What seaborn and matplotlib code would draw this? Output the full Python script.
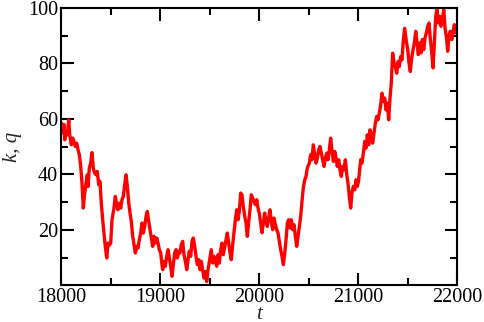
import numpy as np
import pandas as pd
import seaborn as sns
from matplotlib import pyplot as plt
from matplotlib.ticker import MultipleLocator

# values (t, k)
t = [18003, 18017, 18030, 18037, 18051, 18064, 18078, 18088, 18104, 18118,
     18131, 18144, 18159, 18172, 18185, 18199, 18212, 18225, 18239, 18253,
     18266, 18273, 18286, 18300, 18313, 18326, 18340, 18354, 18367, 18381,
     18394, 18407, 18421, 18434, 18447, 18462, 18475, 18488, 18502, 18515,
     18535, 18548, 18563, 18576, 18589, 18603, 18616, 18629, 18643, 18657,
     18670, 18684, 18697, 18710, 18724, 18737, 18751, 18765, 18778, 18791,
     18805, 18818, 18831, 18845, 18859, 18872, 18886, 18899, 18912, 18926,
     18939, 18953, 18967, 18980, 18993, 19007, 19015, 19027, 19040, 19053,
     19068, 19081, 19094, 19108, 19121, 19134, 19148, 19162, 19175, 19189,
     19202, 19215, 19229, 19242, 19256, 19270, 19283, 19296, 19310, 19323,
     19336, 19350, 19364, 19377, 19391, 19404, 19417, 19431, 19444, 19458,
     19472, 19485, 19502, 19518, 19532, 19545, 19559, 19573, 19586, 19599,
     19613, 19626, 19639, 19654, 19667, 19680, 19694, 19707, 19720, 19734,
     19747, 19761, 19775, 19788, 19801, 19815, 19828, 19841, 19856, 19869,
     19882, 19896, 19909, 19922, 19936, 19949, 19963, 19977, 19990, 20003,
     20017, 20030, 20044, 20057, 20071, 20084, 20098, 20111, 20124, 20138,
     20152, 20165, 20179, 20192, 20205, 20219, 20232, 20246, 20260, 20273,
     20286, 20300, 20313, 20326, 20341, 20354, 20367, 20381, 20394, 20407,
     20421, 20434, 20447, 20462, 20475, 20488, 20508, 20522, 20535, 20548,
     20563, 20576, 20589, 20603, 20616, 20629, 20643, 20657, 20670, 20684,
     20697, 20710, 20724, 20737, 20751, 20765, 20778, 20791, 20805, 20818,
     20831, 20845, 20859, 20872, 20886, 20899, 20912, 20926, 20939, 20953,
     20967, 20980, 20993, 21005, 21027, 21040, 21054, 21068, 21081, 21094,
     21108, 21121, 21134, 21148, 21162, 21175, 21189, 21202, 21215, 21229,
     21242, 21256, 21270, 21283, 21296, 21310, 21323, 21336, 21350, 21364,
     21377, 21391, 21404, 21417, 21431, 21444, 21458, 21471, 21488, 21502,
     21515, 21528, 21542, 21556, 21569, 21583, 21596, 21609, 21623, 21636,
     21650, 21664, 21677, 21690, 21704, 21717, 21731, 21745, 21758, 21771,
     21785, 21798, 21811, 21825, 21838, 21851, 21866, 21879, 21892, 21906,
     21919, 21932, 21947, 21960, 21973, 21987, 22000]
k = [58.5, 55.0, 58.0, 52.5, 55.5, 54.3, 59.7, 54.3, 50.7, 53.1,
     51.9, 50.1, 51.3, 48.9, 47.1, 42.9, 36.9, 27.9, 33.3, 36.9,
     39.9, 35.7, 42.3, 44.1, 47.9, 42.3, 40.5, 39.9, 41.1, 36.3,
     37.5, 29.7, 23.7, 18.9, 14.1, 9.9, 15.3, 14.5, 15.3, 23.7,
     27.9, 32.1, 29.1, 27.3, 29.7, 27.9, 30.9, 32.1, 36.3, 39.9,
     35.7, 29.7, 26.1, 23.1, 17.7, 14.7, 11.7, 14.1, 13.5, 16.5,
     18.9, 22.5, 18.9, 21.3, 24.9, 26.7, 23.1, 20.1, 17.1, 14.1,
     17.7, 15.3, 17.1, 15.3, 12.9, 11.7, 9.0, 5.7, 8.7, 6.9,
     10.5, 12.9, 9.9, 6.9, 3.3, 7.5, 11.7, 12.9, 9.9, 12.3,
     11.7, 14.7, 15.9, 11.1, 8.7, 5.7, 9.3, 12.3, 10.5, 15.9,
     17.1, 14.1, 10.5, 7.5, 9.3, 5.7, 8.7, 5.7, 2.7, 5.0,
     1.4, 5.7, 9.3, 12.9, 8.1, 10.5, 8.7, 6.9, 11.1, 8.1,
     12.9, 15.3, 11.1, 14.1, 16.5, 18.9, 15.3, 11.7, 9.3, 14.7,
     18.9, 23.7, 27.3, 23.7, 26.7, 33.3, 32.7, 28.5, 24.9, 22.5,
     17.7, 23.1, 27.3, 32.7, 31.5, 30.3, 29.1, 30.9, 28.0, 26.0,
     22.5, 19.0, 22.5, 26.1, 23.1, 21.3, 24.3, 27.3, 23.1, 20.1,
     24.3, 21.9, 20.1, 18.9, 15.9, 12.9, 10.5, 7.5, 11.7, 16.5,
     22.5, 23.7, 20.7, 23.7, 20.1, 21.9, 17.7, 14.1, 17.7, 21.3,
     24.9, 30.3, 35.1, 38.1, 39.3, 42.3, 44.1, 47.1, 45.3, 50.7,
     47.1, 44.1, 45.9, 48.9, 50.1, 47.7, 45.3, 42.9, 45.9, 47.7,
     45.3, 48.9, 53.1, 48.3, 44.7, 48.3, 45.9, 42.9, 45.3, 41.7,
     39.3, 42.9, 41.7, 45.3, 39.9, 36.9, 32.1, 27.9, 33.3, 35.7,
     34.5, 38.1, 35.7, 37.5, 45.3, 44.1, 47.7, 51.9, 49.5, 54.3,
     50.7, 56.1, 54.3, 51.3, 54.9, 58.5, 60.9, 59.7, 62.1, 65.1,
     69.3, 66.3, 67.5, 63.3, 65.7, 59.7, 67.5, 72.9, 83.7, 80.1,
     78.9, 76.5, 80.7, 78.9, 82.5, 81.3, 88.5, 92.7, 88.0, 85.0,
     80.2, 77.1, 82.0, 85.0, 87.4, 91.6, 87.4, 83.2, 87.4, 83.8,
     88.6, 85.0, 89.2, 91.0, 93.4, 94.6, 88.6, 83.8, 78.4, 87.4,
     97.0, 99.5, 94.6, 97.0, 93.4, 95.8, 99.4, 92.8, 89.8, 84.4,
     89.8, 91.6, 88.6, 91.6, 94.0, 91.0, 91.6]

df = pd.DataFrame({'t': t, 'k': k})

sns.set_style('ticks')
plt.rcParams['font.family'] = ['Liberation Serif', 'DejaVu Serif']

fig = plt.figure(figsize=(4.85, 3.22), dpi=100)
ax = fig.add_axes([0.1258, 0.1134, 0.8165, 0.8618])

sns.lineplot(data=df, x='t', y='k', color='red', linewidth=2.4, ax=ax)

ax.set_xlim(18000, 22000)
ax.set_ylim(0, 100)
ax.set_xticks([18000, 19000, 20000, 21000, 22000])
ax.set_yticks([20, 40, 60, 80, 100])
ax.xaxis.set_minor_locator(MultipleLocator(500))
ax.yaxis.set_minor_locator(MultipleLocator(10))
ax.tick_params(which='both', direction='in', top=True, right=True,
               width=1.5, labelsize=14.5, colors='black')
ax.tick_params(which='major', length=9, pad=2)
ax.tick_params(which='minor', length=5)
for s in ax.spines.values():
    s.set_linewidth(1.5)
    s.set_color('black')

ax.set_xlabel('t', fontsize=15, style='italic')
ax.set_ylabel('k, q', fontsize=15, style='italic')
ax.xaxis.set_label_coords(0.5, -0.072)
ax.yaxis.set_label_coords(-0.098, 0.5)

fig.savefig('out.png', dpi=100)
